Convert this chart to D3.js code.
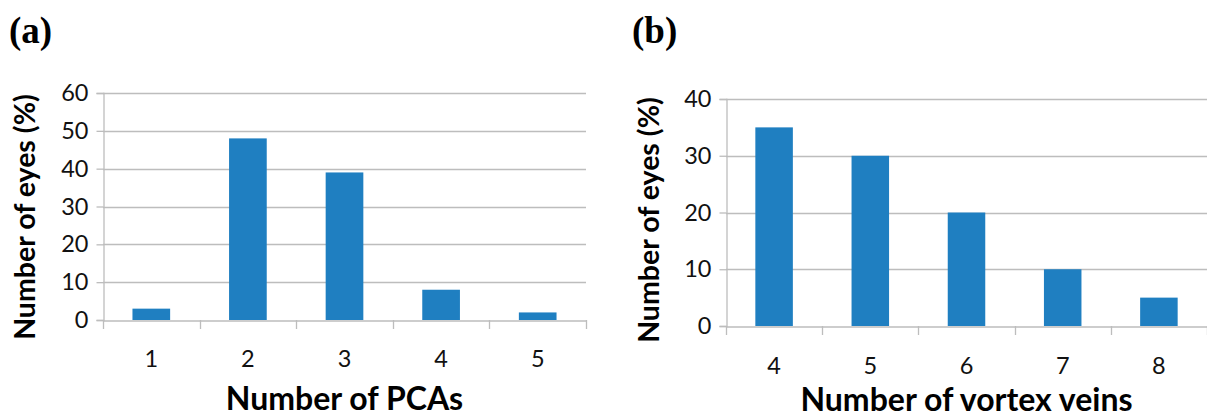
<!DOCTYPE html>
<html><head><meta charset="utf-8">
<script src="https://d3js.org/d3.v7.min.js"></script>
<style>body{margin:0;background:#fff}</style>
</head><body>
<svg id="c" width="1207" height="419"></svg>
<script>
const pcaCategories = ["1","2","3","4","5"];
const pcaValues = [3, 48, 39, 8, 2];
const pcaTicks = [0,10,20,30,40,50,60];
const vvCategories = ["4","5","6","7","8"];
const vvValues = [35, 30, 20, 10, 5];
const vvTicks = [0,10,20,30,40];

const svg = d3.select("#c");
const tickFont = "Lato, 'Open Sans', sans-serif";
const barColor = "#1f7fc1";
const gridColor = "#bdbdbd";

function panel(opt){
  const g = svg.append("g");
  const x = d3.scaleBand().domain(opt.cats).range([opt.x0, opt.x1]).padding(0);
  const y = d3.scaleLinear().domain([0, opt.max]).range([opt.yb, opt.yt]);
  g.selectAll(".grid").data(opt.ticks.filter(t=>t>0)).join("line")
    .attr("x1", opt.x0).attr("x2", opt.x1)
    .attr("y1", d=>Math.round(y(d))+0.5).attr("y2", d=>Math.round(y(d))+0.5)
    .attr("stroke", gridColor).attr("stroke-width",1.3);
  const ya = d3.axisLeft(y).tickValues(opt.ticks).tickSize(7).tickPadding(8);
  const yg = g.append("g").attr("transform",`translate(${opt.x0+0.5},0)`).call(ya);
  yg.select(".domain").attr("stroke", gridColor).attr("stroke-width",1.3);
  yg.selectAll(".tick line").attr("stroke", gridColor).attr("stroke-width",1.3);
  yg.selectAll(".tick text").attr("font-family", tickFont).attr("font-size", 23.5).attr("fill","#111");
  const xa = d3.axisBottom(x).tickSize(0);
  const xg = g.append("g").attr("transform",`translate(0,${Math.round(opt.yb)+0.5})`).call(xa);
  xg.select(".domain").attr("stroke", gridColor).attr("stroke-width",1.3);
  xg.selectAll(".tick text").attr("font-family", tickFont).attr("font-size", 23.5).attr("fill","#111")
    .attr("dy", null).attr("y", opt.xlabBase - Math.round(opt.yb));
  const bounds = opt.cats.map(c=>x(c)).concat([opt.x1]);
  g.selectAll(".bt").data(bounds).join("line")
    .attr("x1", d=>Math.round(d)+0.5).attr("x2", d=>Math.round(d)+0.5)
    .attr("y1", Math.round(opt.yb)).attr("y2", Math.round(opt.yb)+9)
    .attr("stroke", gridColor).attr("stroke-width",1.3);
  const bw = x.bandwidth()*0.39;
  g.selectAll(".bar").data(opt.vals).join("rect")
    .attr("x", (d,i)=>x(opt.cats[i]) + (x.bandwidth()-bw)/2)
    .attr("width", bw)
    .attr("y", d=>y(d))
    .attr("height", d=>y(0)-y(d))
    .attr("fill", barColor);
  g.append("text").attr("x",(opt.x0+opt.x1)/2).attr("y",opt.xtY)
    .attr("text-anchor","middle").attr("font-family", tickFont).attr("font-weight","bold")
    .attr("font-size",32).attr("fill","#000").text(opt.xtitle);
  g.append("text").attr("transform",`translate(${opt.ytX},${opt.ytY}) rotate(-90)`)
    .attr("text-anchor","middle").attr("font-family", tickFont).attr("font-weight","bold")
    .attr("font-size",28.5).attr("fill","#000").text("Number of eyes (%)");
  g.append("text").attr("x",opt.lx).attr("y",43)
    .attr("font-family","'Liberation Serif', 'Times New Roman', serif").attr("font-weight","bold")
    .attr("font-size",37).attr("fill","#000").text(opt.label);
}

panel({cats:pcaCategories, vals:pcaValues, ticks:pcaTicks, max:60,
  x0:103, x1:586, yb:320, yt:93, xlabBase:366, xtY:410, xtitle:"Number of PCAs",
  ytX:35, ytY:217, lx:9, label:"(a)"});
panel({cats:vvCategories, vals:vvValues, ticks:vvTicks, max:40,
  x0:726, x1:1207, yb:326, yt:99, xlabBase:373, xtY:411, xtitle:"Number of vortex veins",
  ytX:659, ytY:220, lx:632, label:"(b)"});
</script>
</body></html>
